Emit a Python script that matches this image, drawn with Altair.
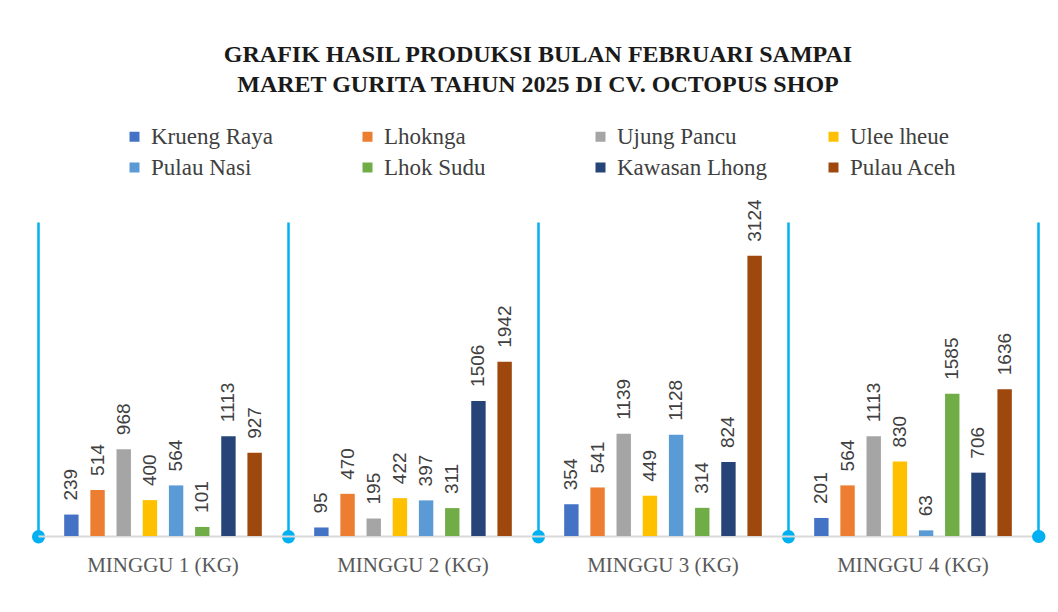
import altair as alt
import pandas as pd

weeks = ["MINGGU 1 (KG)", "MINGGU 2 (KG)", "MINGGU 3 (KG)", "MINGGU 4 (KG)"]
locations = ["Krueng Raya", "Lhoknga", "Ujung Pancu", "Ulee lheue",
             "Pulau Nasi", "Lhok Sudu", "Kawasan Lhong", "Pulau Aceh"]
colors = ["#4472C4", "#ED7D31", "#A5A5A5", "#FFC000",
          "#5B9BD5", "#70AD47", "#264478", "#9E480E"]

week1 = [239, 514, 968, 400, 564, 101, 1113, 927]
week2 = [95, 470, 195, 422, 397, 311, 1506, 1942]
week3 = [354, 541, 1139, 449, 1128, 314, 824, 3124]
week4 = [201, 564, 1113, 830, 63, 1585, 706, 1636]

rows = []
for w, vals in zip(weeks, [week1, week2, week3, week4]):
    for loc, v in zip(locations, vals):
        rows.append({"week": w, "loc": loc, "val": v})
df = pd.DataFrame(rows)

W, H = 1000, 314
LINE = "#00B0F0"

x_enc = alt.X("week:N", sort=weeks,
              scale=alt.Scale(paddingInner=0, paddingOuter=0),
              axis=alt.Axis(title=None, labelAngle=0, bandPosition=0,
                            ticks=True, tickColor=LINE, tickWidth=13, tickSize=0.5,
                            tickCap="round",
                            grid=True, gridColor=LINE, gridWidth=2.5,
                            domainColor="#d9d9d9", domainWidth=2,
                            labelFont="Liberation Serif", labelFontSize=21,
                            labelColor="#595959", labelPadding=18))
xo_enc = alt.XOffset("loc:N", sort=locations,
                     scale=alt.Scale(paddingInner=0.45, paddingOuter=1))
y_enc = alt.Y("val:Q", scale=alt.Scale(domain=[0, 3500]),
              axis=alt.Axis(orient="right", title=None, labels=False, grid=False,
                            values=[0], ticks=True, tickColor=LINE, tickWidth=13,
                            tickSize=0.5, tickCap="round",
                            domainColor=LINE, domainWidth=2.5))

bars = alt.Chart(df).mark_bar().encode(
    x=x_enc, xOffset=xo_enc, y=y_enc,
    color=alt.Color("loc:N", sort=locations,
                    scale=alt.Scale(domain=locations, range=colors),
                    legend=alt.Legend(title=None, orient="none", legendX=85, legendY=-97,
                                      direction="horizontal", columns=4, gridAlign="all",
                                      symbolType="square", symbolSize=100, symbolStrokeWidth=0,
                                      labelFont="Liberation Serif", labelFontSize=23,
                                      labelColor="#404040", labelOffset=5, labelLimit=300,
                                      columnPadding=54, rowPadding=7))
)

labels = alt.Chart(df).mark_text(angle=270, align="left", baseline="middle", dx=14,
                                 font="Liberation Sans", fontSize=19, color="#404040").encode(
    x=x_enc, xOffset=xo_enc, y=y_enc, text="val:Q"
)

chart = alt.layer(bars, labels).properties(
    width=W, height=H,
    autosize="none",
    padding={"left": 30, "top": 214, "right": 12, "bottom": 60},
    title=alt.Title(["GRAFIK HASIL PRODUKSI BULAN FEBRUARI SAMPAI",
                     "MARET GURITA TAHUN 2025 DI CV. OCTOPUS SHOP"],
                    font="Liberation Serif", fontSize=24, fontWeight="bold",
                    color="#1a1a1a", anchor="middle", lineHeight=30, offset=28)
).configure_view(stroke=None)

chart.save("out.html", embed_options={"renderer": "svg", "actions": False})
